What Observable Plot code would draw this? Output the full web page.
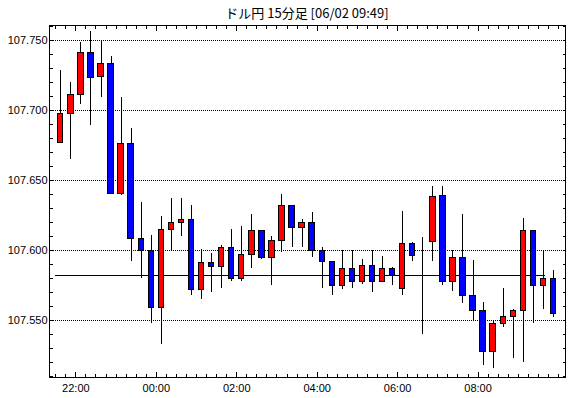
<!DOCTYPE html>
<html><head><meta charset="utf-8">
<script src="https://cdn.jsdelivr.net/npm/d3@7"></script>
<script src="https://cdn.jsdelivr.net/npm/@observablehq/plot@0.6"></script>
<style>
body{margin:0;background:#fff;}
#title{width:570px;height:22px;box-sizing:border-box;padding:4px 5px 0 49px;line-height:18px;font-family:"Noto Sans CJK JP";font-size:13px;text-align:center;color:#000;white-space:pre;}
#chart svg{display:block;}
#chart svg line, #chart svg rect, #chart svg path{shape-rendering:crispEdges;}
</style></head><body>
<div id="title">ドル円 15分足 [06/02 09:49]</div>
<div id="chart"></div>
<script>
const times = ["21:30","21:45","22:00","22:15","22:30","22:45","23:00","23:15","23:30","23:45",
  "00:00","00:15","00:30","00:45","01:00","01:15","01:30","01:45","02:00","02:15",
  "02:30","02:45","03:00","03:15","03:30","03:45","04:00","04:15","04:30","04:45",
  "05:00","05:15","05:30","05:45","06:00","06:15","06:30","06:45","07:00","07:15",
  "07:30","07:45","08:00","08:15","08:30","08:45","09:00","09:15","09:30","09:45"];
const open = [107.677,107.697,107.711,107.741,107.724,107.733,107.640,107.676,107.608,107.600,
  107.559,107.615,107.620,107.622,107.572,107.591,107.588,107.602,107.580,107.597,
  107.614,107.595,107.607,107.632,107.616,107.620,107.600,107.592,107.575,107.587,
  107.578,107.589,107.578,107.587,107.573,107.605,107.596,107.606,107.639,107.578,
  107.595,107.568,107.557,107.528,107.548,107.553,107.557,107.614,107.575,107.580];
const high = [107.728,107.720,107.748,107.756,107.749,107.738,107.709,107.687,107.634,107.611,
  107.624,107.637,107.637,107.632,107.601,107.598,107.604,107.615,107.617,107.626,
  107.614,107.610,107.640,107.632,107.622,107.627,107.602,107.592,107.600,107.600,
  107.594,107.600,107.596,107.588,107.628,107.606,107.609,107.646,107.646,107.600,
  107.626,107.593,107.563,107.550,107.573,107.558,107.623,107.614,107.600,107.586];
const low = [107.677,107.665,107.704,107.689,107.709,107.640,107.639,107.592,107.580,107.548,
  107.533,107.600,107.610,107.568,107.565,107.570,107.573,107.578,107.578,107.587,
  107.594,107.575,107.599,107.602,107.602,107.595,107.573,107.568,107.572,107.573,
  107.576,107.570,107.578,107.575,107.568,107.592,107.540,107.592,107.575,107.571,
  107.562,107.550,107.518,107.516,107.545,107.523,107.520,107.548,107.558,107.552];
const close = [107.697,107.711,107.741,107.723,107.733,107.640,107.676,107.608,107.600,107.559,
  107.615,107.620,107.622,107.572,107.591,107.588,107.602,107.580,107.597,107.614,
  107.595,107.607,107.632,107.616,107.620,107.600,107.592,107.575,107.587,107.578,
  107.589,107.578,107.587,107.582,107.605,107.596,107.596,107.638,107.578,107.595,
  107.568,107.557,107.528,107.548,107.553,107.557,107.614,107.575,107.580,107.555];
const yTicks = [107.550, 107.600, 107.650, 107.700, 107.750];
const xTickLabels = ["22:00","00:00","02:00","04:00","06:00","08:00"];
const refLevel = 107.582;

const M = 60000;
function toDate(hm) {
  const [h, m] = hm.split(":").map(Number);
  const day = h >= 12 ? 1 : 2;
  return new Date(Date.UTC(2020, 5, day, h, m));
}
const data = times.map((s, i) => ({t: toDate(s), o: open[i], h: high[i], l: low[i], c: close[i]}));
const xStart = new Date(+toDate("21:20") + 40 * 1000);
const xEnd = new Date(+toDate("10:10") + 26 * 1000);
const xMajor = xTickLabels.map(toDate);
const xMinor = d3.utcMinute.every(15).range(toDate("21:30"), xEnd);
const yMinor = d3.range(107.51, 107.7601, 0.01).map(v => +v.toFixed(2));
const blank = () => "";

const chart = Plot.plot({
  width: 570, height: 376,
  marginLeft: 49, marginRight: 5, marginTop: 3, marginBottom: 21,
  style: {fontFamily: "Liberation Sans", fontSize: "11px", background: "#fff", color: "#000"},
  x: {type: "utc", domain: [xStart, xEnd]},
  y: {domain: [107.5096, 107.7604]},
  marks: [
    Plot.ruleY(yTicks, {stroke: "#000", strokeDasharray: "1,1"}),
    Plot.ruleY([refLevel], {x1: () => data[0].t, x2: () => new Date(+data[data.length - 1].t - 5 * M), stroke: "#000"}),
    Plot.ruleX(data, {x: d => new Date(+d.t + 7.5 * M), y1: "l", y2: "h", stroke: "#000"}),
    Plot.rect(data, {x1: d => new Date(+d.t + 3.5 * M), x2: d => new Date(+d.t + 11.5 * M), y1: "o", y2: "c",
      fill: d => d.c >= d.o ? "#ff0000" : "#0000ff", stroke: "#000", strokeWidth: 1}),
    Plot.frame({stroke: "#000"}),
    Plot.axisY(yTicks, {anchor: "left", tickSize: 0, tickPadding: 2, tickFormat: d3.format(".3f"), label: null}),
    Plot.axisY(yMinor, {anchor: "left", tickSize: -4, tickFormat: blank, label: null}),
    Plot.axisY(yMinor, {anchor: "right", tickSize: -3, tickFormat: blank, label: null}),
    Plot.axisX(xMinor, {anchor: "top", tickSize: -3, tickFormat: blank, label: null}),
    Plot.axisX(xMajor, {anchor: "top", tickSize: -5, tickFormat: blank, label: null}),
    Plot.axisX(xMinor, {anchor: "bottom", tickSize: -3, tickFormat: blank, label: null}),
    Plot.axisX(xMajor, {anchor: "bottom", tickSize: -5, tickFormat: blank, label: null}),
    Plot.axisX(xMajor, {anchor: "bottom", tickSize: 0, tickPadding: 7, tickFormat: "%H:%M", label: null})
  ]
});
document.getElementById("chart").appendChild(chart);
</script>
</body></html>
